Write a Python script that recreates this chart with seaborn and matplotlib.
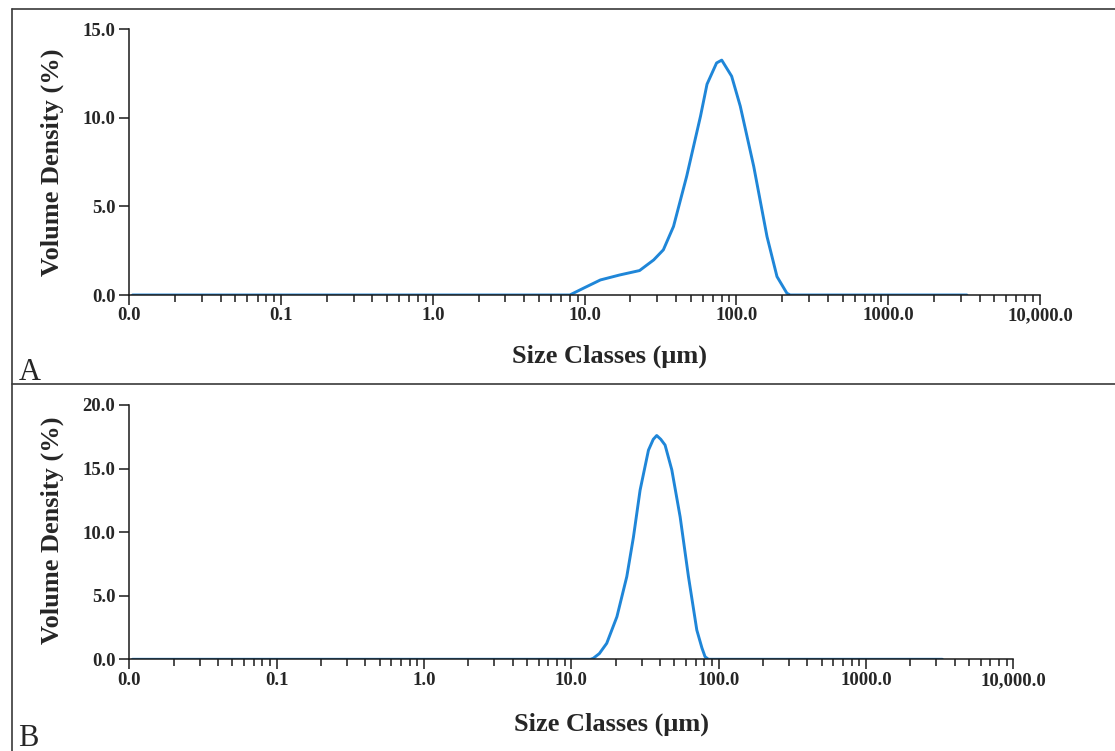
import numpy as np
import pandas as pd
import matplotlib
matplotlib.use("Agg")
import matplotlib.pyplot as plt
from matplotlib.ticker import LogLocator, FixedLocator, FixedFormatter, NullFormatter
from matplotlib.lines import Line2D
import seaborn as sns

# ---- data ----
size_a = [0.0105, 8.0, 8.2, 9.8, 12.7, 17.0, 23.0, 28.5, 33.0, 38.5, 47.0, 58.0,
          64.0, 74.0, 80.0, 93.0, 106.0, 130.0, 159.0, 185.0, 215.0, 226.0, 3300.0]
dens_a = [0.0, 0.0, 0.05, 0.38, 0.85, 1.13, 1.38, 1.98, 2.55, 3.87, 6.7, 10.1,
          11.9, 13.1, 13.26, 12.35, 10.66, 7.26, 3.30, 1.04, 0.1, 0.0, 0.0]

size_b = [0.0105, 13.5, 14.1, 15.5, 17.4, 20.4, 23.8, 26.4, 29.3, 33.4, 36.0, 38.0,
          40.5, 43.3, 48.1, 54.8, 62.4, 71.1, 77.0, 80.9, 85.3, 3300.0]
dens_b = [0.0, 0.0, 0.08, 0.45, 1.26, 3.35, 6.5, 9.6, 13.3, 16.45, 17.3, 17.6,
          17.3, 16.85, 14.9, 11.2, 6.5, 2.3, 0.9, 0.2, 0.0, 0.0]

x_ticks = [0.01, 0.1, 1, 10, 100, 1000, 10000]
x_tick_labels = ["0.0", "0.1", "1.0", "10.0", "100.0", "1000.0", "10,000.0"]
y_ticks_a = [0, 5, 10, 15]
y_ticks_b = [0, 5, 10, 15, 20]
x_label = "Size Classes (\u03bcm)"
y_label = "Volume Density (%)"
panel_labels = ["A", "B"]

sns.set_theme(style="ticks")
plt.rcParams["font.family"] = ["Liberation Serif", "DejaVu Serif"]
plt.rcParams["font.weight"] = "bold"

W, H = 1115, 751
fig = plt.figure(figsize=(W / 100, H / 100), dpi=100)
fig.patch.set_facecolor("white")

line_color = "#1f86d8"
spine_color = "#1a1a1a"
tick_fs = 13.5
label_fs = 19

def make_panel(rect, xs, ys, yticks, ymax):
    ax = fig.add_axes(rect)
    df = pd.DataFrame({"size": xs, "density": ys})
    sns.lineplot(data=df, x="size", y="density", ax=ax, color=line_color,
                 linewidth=2.1, sort=False)
    ax.set_xscale("log")
    ax.set_xlim(0.01, 10000)
    ax.set_ylim(0, ymax)
    ax.xaxis.set_major_locator(FixedLocator(x_ticks))
    ax.xaxis.set_major_formatter(FixedFormatter(x_tick_labels))
    ax.xaxis.set_minor_locator(LogLocator(base=10, subs=np.arange(2, 10)))
    ax.xaxis.set_minor_formatter(NullFormatter())
    ax.set_yticks(yticks)
    ax.set_yticklabels([f"{v:.1f}" for v in yticks])
    ax.set_xlabel("")
    ax.set_ylabel("")
    for s in ["top", "right"]:
        ax.spines[s].set_visible(False)
    for s in ["left", "bottom"]:
        ax.spines[s].set_color(spine_color)
        ax.spines[s].set_linewidth(1.1)
    ax.tick_params(axis="x", which="major", length=7, width=1.1, color=spine_color,
                   direction="out", pad=2, labelsize=tick_fs)
    ax.tick_params(axis="x", which="minor", length=5, width=1.1, color=spine_color,
                   direction="out")
    ax.tick_params(axis="y", which="major", length=7, width=1.1, color=spine_color,
                   direction="out", pad=3, labelsize=tick_fs)
    for lab in ax.get_xticklabels() + ax.get_yticklabels():
        lab.set_fontweight("bold")
    ax.patch.set_alpha(0)
    return ax

# Panel A
axA = make_panel([129.3 / W, 1 - 295 / H, (1040 - 129.3) / W, (295 - 29.3) / H],
                 size_a, dens_a, y_ticks_a, 15)
# Panel B
axB = make_panel([129.3 / W, 1 - 659.3 / H, (1013.3 - 129.3) / W, (659.3 - 405) / H],
                 size_b, dens_b, y_ticks_b, 20)

# axis titles
fig.text(52 / W, 1 - 162 / H, y_label, rotation=90, ha="center", va="center",
         fontsize=label_fs, fontweight="bold")
fig.text(52 / W, 1 - 530 / H, y_label, rotation=90, ha="center", va="center",
         fontsize=label_fs, fontweight="bold")
fig.text(610 / W, 1 - 356 / H, x_label, ha="center", va="center",
         fontsize=label_fs, fontweight="bold")
fig.text(612 / W, 1 - 724 / H, x_label, ha="center", va="center",
         fontsize=label_fs, fontweight="bold")

# panel letters
fig.text(19 / W, 1 - 380 / H, panel_labels[0], ha="left", va="baseline",
         fontsize=22, fontweight="normal")
fig.text(18 / W, 1 - 746 / H, panel_labels[1], ha="left", va="baseline",
         fontsize=22, fontweight="normal")

# panel borders
border_kw = dict(color="#3a3a3a", linewidth=1.2, transform=fig.transFigure)
fig.add_artist(Line2D([12 / W, 1.0], [1 - 9 / H, 1 - 9 / H], **border_kw))
fig.add_artist(Line2D([12 / W, 12 / W], [1 - 9 / H, 0.0], **border_kw))
fig.add_artist(Line2D([12 / W, 1.0], [1 - 384 / H, 1 - 384 / H], **border_kw))

fig.savefig("out.png", dpi=100, facecolor="white")
